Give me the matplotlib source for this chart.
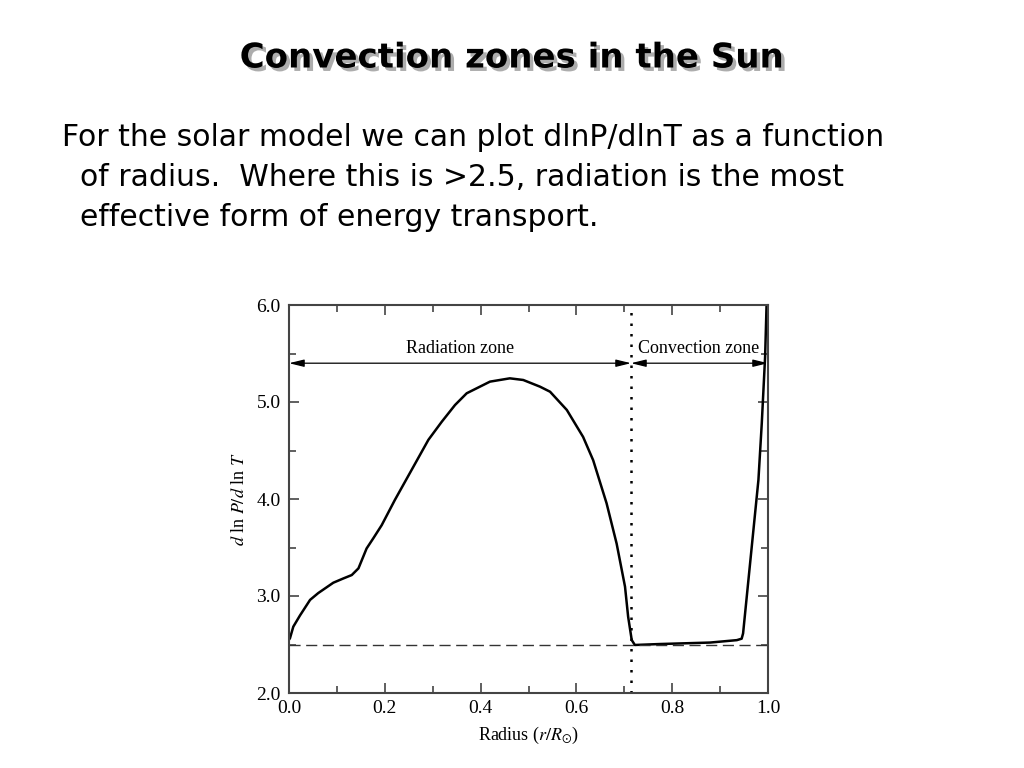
import matplotlib
matplotlib.use("Agg")
import matplotlib.pyplot as plt
import matplotlib.patheffects as pe
import numpy as np

# Data
radius = [0.0, 0.002, 0.009, 0.023, 0.044, 0.061, 0.0925, 0.113, 0.131, 0.145, 0.162,
          0.176, 0.1935, 0.221, 0.256, 0.291, 0.319, 0.3466, 0.371, 0.4196, 0.461,
          0.489, 0.524, 0.545, 0.58, 0.614, 0.635, 0.663, 0.684, 0.7015, 0.708,
          0.7155, 0.722, 0.775, 0.879, 0.935, 0.945, 0.948, 0.980, 0.987, 0.994, 0.997]
dlnp_dlnt = [2.55, 2.564, 2.684, 2.80, 2.96, 3.03, 3.137, 3.18, 3.216, 3.285, 3.49,
             3.595, 3.73, 3.99, 4.30, 4.61, 4.797, 4.969, 5.09, 5.21, 5.244,
             5.227, 5.158, 5.106, 4.918, 4.64, 4.40, 3.956, 3.54, 3.096, 2.787,
             2.546, 2.495, 2.505, 2.52, 2.545, 2.56, 2.615, 4.196, 4.78, 5.47, 6.0]
boundary = 0.714
threshold = 2.5
zone_y = 5.4
xticks = [0.0, 0.2, 0.4, 0.6, 0.8, 1.0]
yticks = [2.0, 3.0, 4.0, 5.0, 6.0]

fig = plt.figure(figsize=(10.24, 7.68), dpi=100)
fig.patch.set_facecolor("white")

# Title with shadow
fig.text(0.5, 1 - 58 / 768, "Convection zones in the Sun", ha="center", va="center",
         fontsize=24.5, fontweight="bold", family="DejaVu Sans",
         path_effects=[pe.SimplePatchShadow(offset=(2.5, -2.5), shadow_rgbFace="#999999", alpha=0.8),
                       pe.Normal()])

body = ["For the solar model we can plot dlnP/dlnT as a function",
        "of radius.  Where this is >2.5, radiation is the most",
        "effective form of energy transport."]
fig.text(62 / 1024, 1 - 137 / 768, body[0], ha="left", va="center", fontsize=21.5, family="DejaVu Sans")
fig.text(80 / 1024, 1 - 178 / 768, body[1], ha="left", va="center", fontsize=21.5, family="DejaVu Sans")
fig.text(80 / 1024, 1 - 218 / 768, body[2], ha="left", va="center", fontsize=21.5, family="DejaVu Sans")

plt.rcParams["mathtext.fontset"] = "stix"
serif = "Liberation Serif"
ax = fig.add_axes([289 / 1024, 1 - 693 / 768, 479 / 1024, 388 / 768])
ax.plot(radius, dlnp_dlnt, color="black", lw=1.8)
ax.axhline(threshold, color="#333333", lw=1.0, ls=(0, (8, 4)))
ax.axvline(boundary, color="black", lw=1.8, ls=(0, (1, 3.2)))

ax.set_xlim(0, 1)
ax.set_ylim(2, 6)
ax.set_xticks(xticks)
ax.set_xticklabels([f"{t:.1f}" for t in xticks], family=serif, fontsize=14)
ax.set_yticks(yticks)
ax.set_yticklabels([f"{t:.1f}" for t in yticks], family=serif, fontsize=14)
ax.set_xticks(np.arange(0.1, 1.0, 0.2), minor=True)
ax.set_yticks(np.arange(2.5, 6.0, 1.0), minor=True)
ax.tick_params(which="both", direction="in", top=True, right=True, color="#444444", width=1.2)
ax.tick_params(which="major", length=7)
ax.tick_params(which="minor", length=5)
ax.tick_params(axis="x", which="major", pad=5)
ax.tick_params(axis="y", which="major", pad=6)
for s in ax.spines.values():
    s.set_color("#444444")
    s.set_linewidth(1.5)

ax.set_xlabel(r"Radius ($r/R_{\odot}$)", family=serif, fontsize=13, labelpad=6)
ax.set_ylabel(r"$d$ ln $P/d$ ln $T$", family=serif, fontsize=13, labelpad=6)

arrow = dict(arrowstyle="<|-|>,head_length=0.9,head_width=0.22", color="black", lw=0.9,
             shrinkA=0, shrinkB=0)
ax.annotate("", xy=(0.0, zone_y), xytext=(boundary, zone_y), arrowprops=arrow)
ax.annotate("", xy=(boundary, zone_y), xytext=(1.0, zone_y), arrowprops=arrow)
ax.text(0.357, 5.55, "Radiation zone", ha="center", va="center", family=serif, fontsize=13)
ax.text(0.855, 5.55, "Convection zone", ha="center", va="center", family=serif, fontsize=13)

fig.savefig("out.png", dpi=100, facecolor="white")
